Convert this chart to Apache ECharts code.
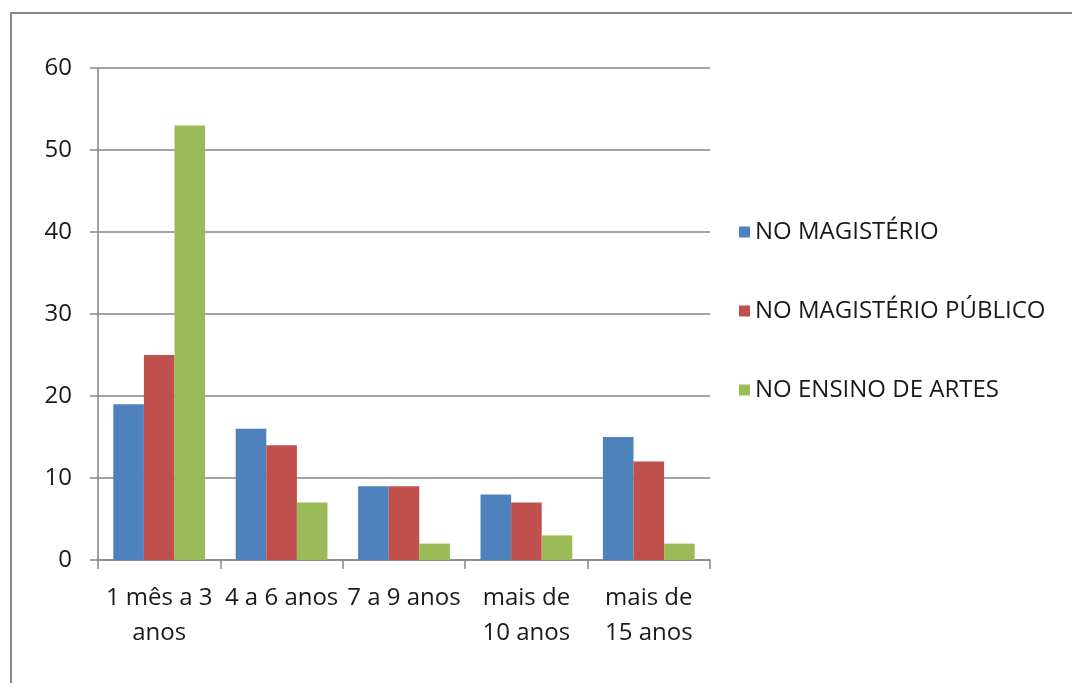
<!DOCTYPE html>
<html>
<head>
<meta charset="utf-8">
<script src="https://cdn.jsdelivr.net/npm/echarts@6/dist/echarts.min.js"></script>
<style>
  html, body { margin: 0; padding: 0; background: #ffffff; }
  #chart { width: 1072px; height: 683px; }
</style>
</head>
<body>
<div id="chart"></div>
<script>
// Tempo de atuação por categoria
const categories = ['1 mês a 3\nanos', '4 a 6 anos', '7 a 9 anos', 'mais de\n10 anos', 'mais de\n15 anos'];
const seriesNames = ['NO MAGISTÉRIO', 'NO MAGISTÉRIO PÚBLICO', 'NO ENSINO DE ARTES'];
const noMagisterio = [19, 16, 9, 8, 15];
const noMagisterioPublico = [25, 14, 9, 7, 12];
const noEnsinoDeArtes = [53, 7, 2, 3, 2];
const yTicks = [0, 10, 20, 30, 40, 50, 60];

const colors = ['#4F81BD', '#C0504D', '#9BBB59'];
const font = 'Open Sans, Liberation Sans, sans-serif';
const axisGray = '#868686';
const textColor = '#1a1a1a';

const chart = echarts.init(document.getElementById('chart'));

function bar(name, data, color) {
  return {
    name: name,
    type: 'bar',
    data: data,
    barGap: '0%',
    barCategoryGap: '25%',
    itemStyle: { color: color },
    emphasis: { disabled: true }
  };
}

chart.setOption({
  animation: false,
  backgroundColor: '#ffffff',
  graphic: [{
    type: 'rect',
    shape: { x: 11, y: 13, width: 1070, height: 680 },
    style: { fill: 'none', stroke: '#878787', lineWidth: 2 },
    silent: true
  }],
  grid: { left: 98, right: 362, top: 68, bottom: 123 },
  legend: {
    orient: 'vertical',
    left: 734,
    top: 215,
    itemWidth: 11,
    itemHeight: 11,
    itemGap: 55,
    icon: 'rect',
    data: seriesNames,
    textStyle: { fontFamily: font, fontSize: 24, lineHeight: 24, color: textColor }
  },
  xAxis: {
    type: 'category',
    data: categories,
    axisLine: { lineStyle: { color: axisGray, width: 1.5 } },
    axisTick: { show: true, length: 9, lineStyle: { color: axisGray, width: 1.5 } },
    axisLabel: {
      fontFamily: font, fontSize: 24, color: textColor,
      margin: 21, lineHeight: 35, interval: 0
    }
  },
  yAxis: {
    type: 'value',
    min: yTicks[0],
    max: yTicks[yTicks.length - 1],
    interval: 10,
    axisLine: { show: true, lineStyle: { color: axisGray, width: 1.5 } },
    axisTick: { show: true, length: 8, lineStyle: { color: axisGray, width: 1.5 } },
    splitLine: { lineStyle: { color: axisGray, width: 1.5 } },
    axisLabel: { fontFamily: font, fontSize: 24, color: textColor, margin: 26 }
  },
  series: [
    bar(seriesNames[0], noMagisterio, colors[0]),
    bar(seriesNames[1], noMagisterioPublico, colors[1]),
    bar(seriesNames[2], noEnsinoDeArtes, colors[2])
  ]
});
</script>
</body>
</html>
